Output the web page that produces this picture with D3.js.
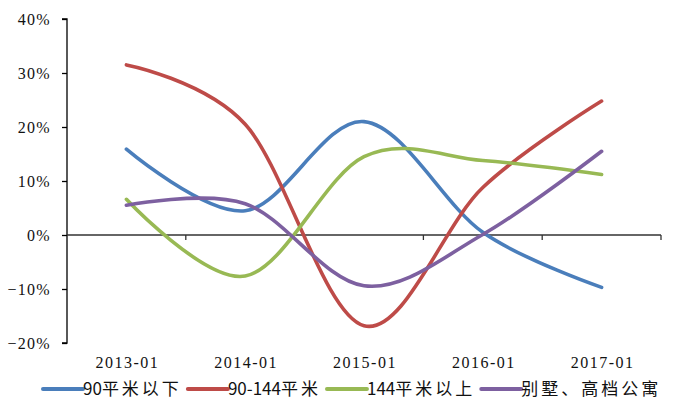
<!DOCTYPE html>
<html>
<head>
<meta charset="utf-8">
<script src="https://cdn.jsdelivr.net/npm/d3@7"></script>
<style>
  html, body { margin: 0; padding: 0; background: #fff; }
  svg { display: block; }
</style>
</head>
<body>
<svg id="chart" width="673" height="399"></svg>
<script>
// Period labels along the category axis
const categories = ["2013-01", "2014-01", "2015-01", "2016-01", "2017-01"];

// Year-on-year change (%) by unit size
const seriesNames = ["90平米以下", "90-144平米", "144平米以上", "别墅、高档公寓"];
const under90 = [15.9, 4.5, 21.0, 0.5, -9.7];
const from90to144 = [31.5, 20.5, -16.8, 8.8, 24.8];
const over144 = [6.6, -7.6, 14.5, 13.8, 11.2];
const villas = [5.5, 5.8, -9.4, 0.1, 15.5];
const seriesValues = [under90, from90to144, over144, villas];

// Value axis ticks (%)
const yTicks = [-20, -10, 0, 10, 20, 30, 40];

const colors = ["#4a7ebb", "#be4b48", "#98b954", "#7d60a0"];

const svg = d3.select("#chart");
const plot = { left: 67, right: 661, top: 19, bottom: 343 };

const x = d3.scaleBand().domain(categories).range([plot.left, plot.right]).padding(0);
const y = d3.scaleLinear().domain([d3.min(yTicks), d3.max(yTicks)]).range([plot.bottom, plot.top]);

const serif = "'Liberation Serif', 'Times New Roman', serif";
const sans = "'Noto Sans CJK SC', 'Noto Sans', sans-serif";

// Value axis
const fmt = d3.format("d");
const yAxis = svg.append("g")
  .attr("transform", `translate(${plot.left},0)`)
  .call(d3.axisLeft(y).tickValues(yTicks).tickSize(5).tickPadding(12)
    .tickFormat(d => fmt(d) + "%"));
yAxis.select(".domain").attr("stroke", "#000").attr("stroke-width", 1.3)
  .attr("d", `M-5,${plot.top}H0V${plot.bottom}H-5`);
yAxis.selectAll(".tick line").attr("stroke", "#000").attr("stroke-width", 1.3);
yAxis.selectAll(".tick text")
  .attr("font-family", serif).attr("font-size", 16).attr("fill", "#111")
  .attr("letter-spacing", "1.3px").attr("dx", "1px");

// Zero line with category boundary ticks
const boundaries = categories.map(c => x(c)).concat([plot.right]);
const zeroAxis = svg.append("g").attr("transform", `translate(0,${y(0)})`);
zeroAxis.append("line")
  .attr("x1", plot.left).attr("x2", plot.right)
  .attr("stroke", "#333").attr("stroke-width", 1.3);
zeroAxis.selectAll("line.btick").data(boundaries.slice(1)).join("line")
  .attr("class", "btick")
  .attr("x1", d => d).attr("x2", d => d).attr("y1", 0).attr("y2", 5)
  .attr("stroke", "#333").attr("stroke-width", 1.3);

// Category labels below the plot
const xAxis = svg.append("g")
  .attr("transform", `translate(0,${plot.bottom})`)
  .call(d3.axisBottom(x).tickSize(0).tickPadding(14));
xAxis.select(".domain").remove();
xAxis.selectAll(".tick text")
  .attr("font-family", serif).attr("font-size", 16).attr("fill", "#111")
  .attr("letter-spacing", "1.5px").attr("dx", "1px");

// Smoothed series lines
const line = d3.line()
  .x((d, i) => x(categories[i]) + x.bandwidth() / 2)
  .y(d => y(d))
  .curve(d3.curveCatmullRom.alpha(0));

svg.append("g").selectAll("path").data(seriesValues).join("path")
  .attr("d", d => line(d))
  .attr("fill", "none")
  .attr("stroke", (d, i) => colors[i])
  .attr("stroke-width", 3.6)
  .attr("stroke-linecap", "round")
  .attr("stroke-linejoin", "round");

// Legend: digits set tight, Chinese characters spaced out
const legend = svg.append("g").attr("transform", "translate(0,389)");
let cx = 43;
seriesNames.forEach((name, i) => {
  legend.append("line")
    .attr("x1", cx).attr("x2", cx + 40).attr("y1", 0).attr("y2", 0)
    .attr("stroke", colors[i]).attr("stroke-width", 4).attr("stroke-linecap", "round");
  const t = legend.append("text")
    .attr("x", cx + 40).attr("y", 6)
    .attr("font-family", sans).attr("font-size", 17).attr("fill", "#111");
  const runs = name.match(/[0-9\-]+|[^0-9\-]+/g);
  runs.forEach(r => {
    const isDigits = /^[0-9\-]+$/.test(r);
    t.append("tspan")
      .attr("letter-spacing", isDigits ? "0px" : "3px")
      .text(r);
  });
  cx += 40 + t.node().getComputedTextLength() + 6;
});
</script>
</body>
</html>
